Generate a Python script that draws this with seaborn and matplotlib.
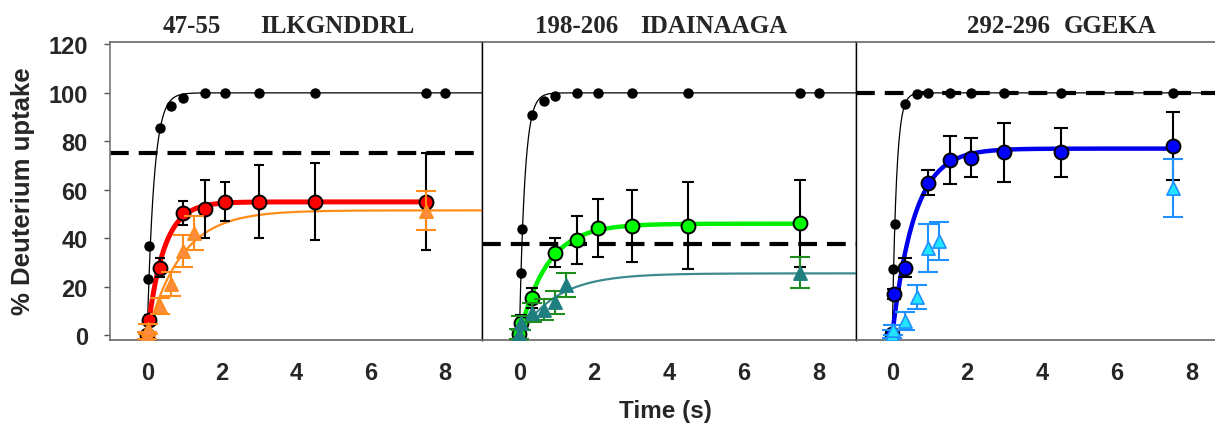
import numpy as np
import pandas as pd
import matplotlib
matplotlib.use("Agg")
import matplotlib.pyplot as plt
import seaborn as sns

# ---------------- data ----------------
titles_num = ["47-55", "198-206", "292-296"]
titles_seq = ["ILKGNDDRL", "IDAINAAGA", "GGEKA"]

# fully deuterated reference (black dots)
ref_t = [0, 0.03, 0.06, 0.35, 0.65, 0.95, 1.55, 2.1, 3.0, 4.5, 7.5, 8.0]
ref_y1 = [0, 23, 37, 85.6, 94.6, 97.9, 99.9, 100, 100, 100, 100, 100]
ref_y2 = [0, 25.6, 44, 90.7, 96.6, 98.7, 100, 100, 100, 100, 100, 100]
ref_t3 = [0, 0.03, 0.06, 0.35, 0.65, 0.95, 1.55, 2.1, 3.0, 4.5, 7.5]
ref_y3 = [0, 27.4, 46, 95.5, 99.4, 100, 100, 100, 100, 100, 100]

# circles (primary series)
circ_t = [0, 0.04, 0.35, 0.95, 1.55, 2.1, 3.0, 4.5, 7.5]
red_y = [0, 6.2, 27.9, 50.3, 52.2, 55.1, 55.1, 55.1, 55.1]
red_err = [1, 2, 4, 5, 12, 8, 15, 16, 20]
green_y = [0.4, 5.2, 15.3, 34.1, 39.3, 44.1, 45.1, 45.1, 46.2]
green_err = [2, 3, 4, 6, 10, 12, 15, 18, 18]
blue_y = [0.4, 16.9, 27.9, 63, 72.2, 73.3, 75.4, 75.4, 78.2]
blue_err = [1, 2, 4, 5, 10, 8, 12, 10, 14]

# triangles (secondary series)
tri_t = [0, 0.03, 0.35, 0.65, 0.95, 1.25, 7.5]
orange_y = [0, 2.5, 12.1, 21, 34.8, 42.3, 51.3]
orange_err = [1.5, 2, 3.2, 5, 6.5, 7, 8]
teal_y = [0.4, 5, 9.3, 10.5, 13.5, 20.6, 25.8]
teal_err = [2, 3, 4, 4.3, 4.8, 5, 6.3]
cyan_y = [0.5, 2, 5.9, 15.9, 36, 38.9, 60.9]
cyan_err = [1.5, 2, 3.8, 5, 10, 8, 12]

# single-exponential fits: (amplitude, rate)
ref_fit = [(100, 5.5), (100, 7.0), (100, 9.0)]
circ_fit = [(55, 2.3), (46, 1.35), (77, 1.7)]
tri_fit = [(51.5, 1.1), (25.5, 1.0), None]

dashed_level = [75, 37.5, 100]

# ---------------- style ----------------
sns.set_style("white")
plt.rcParams["font.family"] = ["Liberation Sans", "DejaVu Sans"]

fig = plt.figure(figsize=(12.15, 4.35), dpi=100)
W, H = 1215, 435
bottom_px, top_px = 341, 43
axes_px = [(110, 372), (482, 374), (856, 359)]
xlims = [(-1.0, 9.0), (-1.0, 9.0), (-0.97, 8.63)]

panels = [
    dict(ref_t=ref_t, ref_y=ref_y1, circ_y=red_y, circ_err=red_err,
         circ_face="#FF0000", circ_line="#FF0000", circ_lw=3.6, circ_cap=3.5,
         tri_y=orange_y, tri_err=orange_err, tri_face="#FF8C3C",
         tri_edge="#FF8C1A", tri_ebar="#FF8C1A", tri_line="#FF8C1A"),
    dict(ref_t=ref_t, ref_y=ref_y2, circ_y=green_y, circ_err=green_err,
         circ_face="#00FF00", circ_line="#00EE00", circ_lw=3.2, circ_cap=4,
         tri_y=teal_y, tri_err=teal_err, tri_face="#1F7F80",
         tri_edge="#1F7F80", tri_ebar="#1E8C1E", tri_line="#3C8A8E"),
    dict(ref_t=ref_t3, ref_y=ref_y3, circ_y=blue_y, circ_err=blue_err,
         circ_face="#0000FF", circ_line="#0000EE", circ_lw=3.2, circ_cap=5,
         tri_y=cyan_y, tri_err=cyan_err, tri_face="#22E6FF",
         tri_edge="#1E90FF", tri_ebar="#1E90FF", tri_line=None),
]

for i, p in enumerate(panels):
    left, width = axes_px[i]
    ax = fig.add_axes([left / W, 1 - bottom_px / H, width / W, (bottom_px - top_px) / H])
    x0, x1 = xlims[i]
    ax.set_xlim(x0, x1)
    ax.set_ylim(-2, 121)

    # dashed level
    ax.axhline(dashed_level[i], color="black", lw=3, dashes=(4.5, 2.4), zorder=1)

    # reference curve + dots
    A, k = ref_fit[i]
    tt = np.linspace(0, x1, 600)
    sns.lineplot(x=tt, y=A * (1 - np.exp(-k * tt)), ax=ax, color="black",
                 lw=0.9, sort=False, estimator=None, zorder=2)
    sns.scatterplot(x=p["ref_t"], y=p["ref_y"], ax=ax, color="black", s=7.5 ** 2,
                    edgecolor="black", linewidth=0, zorder=6)

    # triangle series fit
    if tri_fit[i] is not None:
        A, k = tri_fit[i]
        sns.lineplot(x=tt, y=A * (1 - np.exp(-k * tt)), ax=ax, color=p["tri_line"],
                     lw=1.6, sort=False, estimator=None, zorder=3)

    # circle series fit (to last time point)
    A, k = circ_fit[i]
    tc = np.linspace(0, circ_t[-1], 400)
    sns.lineplot(x=tc, y=A * (1 - np.exp(-k * tc)), ax=ax, color=p["circ_line"],
                 lw=p["circ_lw"], sort=False, estimator=None, zorder=4)

    # circle series error bars + markers
    ax.errorbar(circ_t, p["circ_y"], yerr=p["circ_err"], fmt="none", ecolor="black",
                elinewidth=1.5, capsize=p["circ_cap"], capthick=1.5, zorder=5)
    sns.scatterplot(x=circ_t, y=p["circ_y"], ax=ax, color=p["circ_face"], s=10 ** 2,
                    edgecolor="black", linewidth=1.4, zorder=7)

    # triangle series error bars + markers
    ax.errorbar(tri_t, p["tri_y"], yerr=p["tri_err"], fmt="none", ecolor=p["tri_ebar"],
                elinewidth=1.5, capsize=7, capthick=1.5, zorder=8)
    sns.scatterplot(x=tri_t, y=p["tri_y"], ax=ax, color=p["tri_face"], marker="^",
                    s=9.5 ** 2, edgecolor=p["tri_edge"], linewidth=1.2, zorder=9)

    # axes cosmetics
    ax.set_xticks([0, 2, 4, 6, 8])
    ax.set_xlabel("")
    ax.set_ylabel("")
    ax.tick_params(axis="x", direction="out", length=4, width=1, color="#555555",
                   pad=11, labelsize=17)
    for lab in ax.get_xticklabels():
        lab.set_fontweight("bold")
    if i == 0:
        ax.set_yticks(range(0, 121, 20))
        ax.tick_params(axis="y", direction="out", length=4, width=1, color="#555555",
                       pad=12, labelsize=17, left=True)
        for lab in ax.get_yticklabels():
            lab.set_fontweight("bold")
    else:
        ax.set_yticks([])

    for side in ["top", "bottom"]:
        ax.spines[side].set_color("#666666")
        ax.spines[side].set_linewidth(1.2)
    ax.spines["left"].set_color("#777777" if i == 0 else "black")
    ax.spines["left"].set_linewidth(1.2 if i == 0 else 1.0)
    ax.spines["right"].set_color("black")
    ax.spines["right"].set_linewidth(1.0)
    if i == 2:
        ax.spines["right"].set_visible(False)
    ax.set_facecolor("white")

# panel titles
title_font = dict(family=["Liberation Serif", "DejaVu Serif"], fontweight="bold",
                  fontsize=18, va="baseline", ha="left")
num_x = [163, 535, 967]
seq_x = [260, 640, 1064]
for i in range(3):
    fig.text(num_x[i] / W, 1 - 33 / H, titles_num[i], **title_font)
    fig.text(seq_x[i] / W, 1 - 33 / H, titles_seq[i], **title_font)

fig.text(23 / W, 1 - 191 / H, "% Deuterium uptake", rotation=90, ha="center",
         va="center", fontsize=18.5, fontweight="bold")
fig.text(665 / W, 1 - 412 / H, "Time (s)", ha="center", va="center",
         fontsize=17.5, fontweight="bold")

fig.savefig("out.png", dpi=100, facecolor="white")
